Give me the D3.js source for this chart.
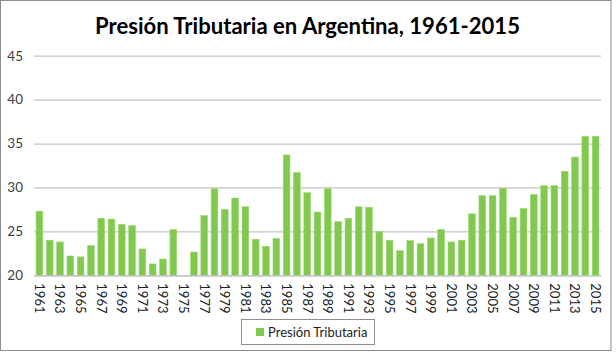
<!DOCTYPE html>
<html>
<head>
<meta charset="utf-8">
<script src="https://cdn.jsdelivr.net/npm/d3@7"></script>
<style>
  html, body { margin: 0; padding: 0; background: #fff; }
  svg { display: block; }
</style>
</head>
<body>
<svg id="chart" width="616" height="352"></svg>
<script>
const title = "Presión Tributaria en Argentina, 1961-2015";
const seriesName = "Presión Tributaria";
const years = d3.range(1961, 2016).map(String);
const values = [
  27.3, 24.0, 23.8, 22.2, 22.1, 23.4, 26.5, 26.4, 25.8, 25.65,
  23.0, 21.3, 21.85, 25.2, null, 22.65, 26.8, 29.85, 27.5, 28.8,
  27.8, 24.1, 23.3, 24.2, 33.7, 31.7, 29.4, 27.2, 29.85, 26.1,
  26.5, 27.8, 27.75, 25.0, 24.0, 22.8, 23.95, 23.6, 24.25, 25.2,
  23.8, 24.0, 27.0, 29.07, 29.07, 29.87, 26.6, 27.6, 29.2, 30.2,
  30.2, 31.85, 33.45, 35.83, 35.83
];
const yTicks = [20, 25, 30, 35, 40, 45];

const svg = d3.select("#chart");
const font = "Lato, 'Open Sans', sans-serif";

// outer frame
svg.append("rect")
  .attr("x", 0.5).attr("y", 0.5)
  .attr("width", 610.5).attr("height", 350)
  .attr("fill", "#fff").attr("stroke", "#8c8c8c").attr("stroke-width", 1);

const x = d3.scaleBand().domain(years).range([34, 601])
  .paddingInner(0.35).paddingOuter(0.2);
const y = d3.scaleLinear().domain([20, 45]).range([275.3, 55.7]);

// gridlines via axis
const yAxis = svg.append("g")
  .attr("transform", "translate(34,0)")
  .call(d3.axisLeft(y).tickValues(yTicks).tickSize(-(601 - 34)).tickPadding(11));
yAxis.select(".domain").remove();
yAxis.selectAll(".tick line").attr("stroke", "#c3c3c3").attr("stroke-width", 1.3);
yAxis.selectAll(".tick text")
  .attr("fill", "#404040").style("font-family", font).style("font-size", "13.5px");

// bars
svg.append("g").selectAll("rect")
  .data(years.map((yr, i) => ({ yr, v: values[i] })).filter(d => d.v != null))
  .join("rect")
  .attr("x", d => x(d.yr))
  .attr("width", x.bandwidth())
  .attr("y", d => y(d.v))
  .attr("height", d => y(20) - y(d.v))
  .attr("fill", "#80c84e")
  .attr("stroke", "#9bd872").attr("stroke-width", 0.6);

// x axis labels (every other year)
const xAxis = svg.append("g")
  .attr("transform", `translate(0,${y(20)})`)
  .call(d3.axisBottom(x).tickValues(years.filter((d, i) => i % 2 === 0)).tickSize(0).tickPadding(0));
xAxis.select(".domain").attr("stroke", "#c3c3c3").attr("stroke-width", 1.3);
xAxis.selectAll(".tick text")
  .attr("transform", "translate(0,8) rotate(90)")
  .attr("text-anchor", "start")
  .attr("dy", "0.35em")
  .attr("x", 0).attr("y", 0)
  .attr("fill", "#222").style("font-family", font).style("font-size", "13px");

// title
svg.append("text")
  .attr("x", 307.5).attr("y", 34)
  .attr("text-anchor", "middle")
  .attr("textLength", 425).attr("lengthAdjust", "spacingAndGlyphs")
  .style("font-family", font).style("font-weight", "bold").style("font-size", "22px")
  .attr("fill", "#000")
  .text(title);

// legend
const lg = svg.append("g");
lg.append("rect").attr("x", 241.5).attr("y", 319.5).attr("width", 133).attr("height", 25)
  .attr("fill", "#fff").attr("stroke", "#8c8c8c");
lg.append("rect").attr("x", 256).attr("y", 328).attr("width", 8).attr("height", 8)
  .attr("fill", "#80c84e");
lg.append("text").attr("x", 268).attr("y", 337)
  .style("font-family", font).style("font-size", "13px").attr("fill", "#222")
  .text(seriesName);
</script>
</body>
</html>
